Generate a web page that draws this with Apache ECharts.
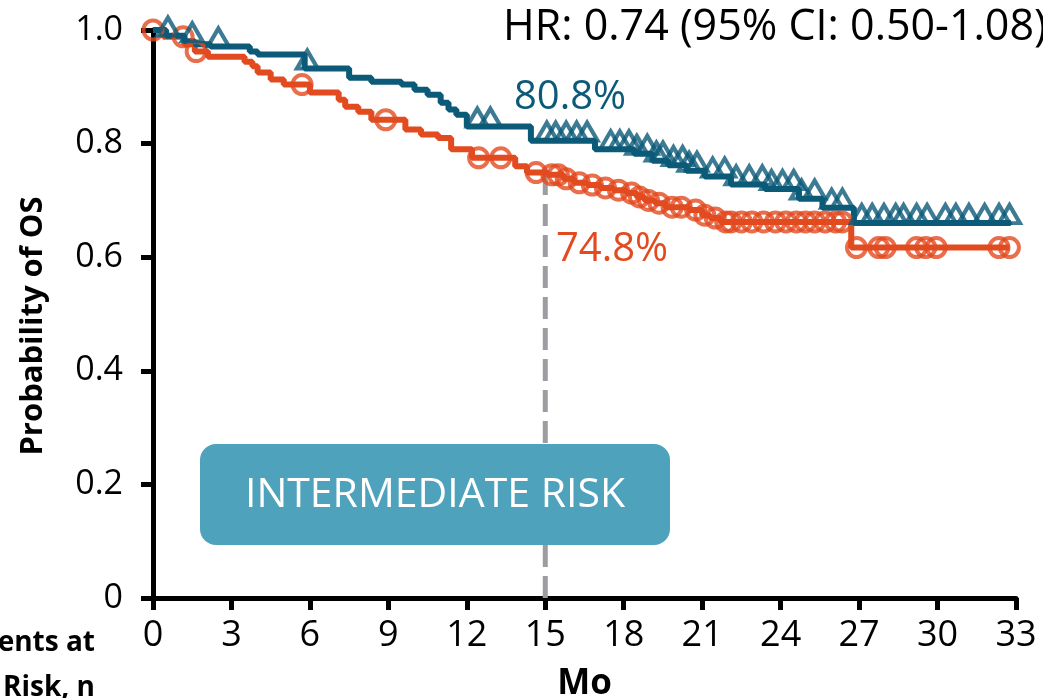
<!DOCTYPE html>
<html>
<head>
<meta charset="utf-8">
<title>Probability of OS - Intermediate risk</title>
<script src="https://cdn.jsdelivr.net/npm/echarts@6/dist/echarts.min.js"></script>
<style>
  html, body { margin: 0; padding: 0; background: #fff; }
  #chart-container { width: 1043px; height: 698px; }
</style>
</head>
<body>
<div id="chart-container"></div>
<script>
// x ticks (months) and y ticks
var monthTicks = [0, 3, 6, 9, 12, 15, 18, 21, 24, 27, 30, 33];

// teal arm: KM steps [month, survival] and censor times
var tealSteps = [
  [0, 1.0], [0.5, 0.99], [1.2, 0.98], [1.6, 0.975], [2.2, 0.971], [3.7, 0.962],
  [4.0, 0.957], [5.8, 0.932], [7.5, 0.916], [8.35, 0.909], [9.5, 0.904],
  [10.0, 0.895], [10.5, 0.886], [11.0, 0.872], [11.3, 0.86], [11.6, 0.851],
  [12.0, 0.83], [14.45, 0.805], [16.9, 0.79], [18.4, 0.782], [19.1, 0.77],
  [19.7, 0.762], [20.4, 0.752], [21.1, 0.742], [22.1, 0.728], [23.4, 0.72],
  [24.7, 0.703], [25.6, 0.687], [26.8, 0.66], [32.8, 0.66]
];
var tealCensor = [
  0.57, 1.5, 2.5, 5.9, 12.4, 12.9, 15.06, 15.4, 15.8, 16.2, 16.6, 17.5, 17.85,
  18.2, 18.5, 18.9, 19.25, 19.5, 19.9, 20.25, 20.5, 20.8, 21.4, 21.86, 22.3,
  22.8, 23.3, 23.65, 24.07, 24.5, 24.8, 25.3, 25.95, 26.36, 27.1, 27.5, 27.95,
  28.4, 28.7, 29.2, 29.6, 30.3, 30.7, 31.2, 31.8, 32.35, 32.75
];

// orange arm
var orangeSteps = [
  [0, 1.0], [0.4, 0.988], [1.2, 0.975], [1.6, 0.962], [2.1, 0.953], [3.5, 0.944],
  [3.8, 0.936], [4.0, 0.925], [4.5, 0.913], [5.0, 0.904], [6.0, 0.89],
  [7.1, 0.877], [7.35, 0.865], [7.85, 0.856], [8.35, 0.842], [9.65, 0.825],
  [10.25, 0.816], [10.9, 0.81], [11.4, 0.79], [12.2, 0.775], [13.85, 0.76],
  [14.3, 0.749], [15.1, 0.745], [15.7, 0.738], [16.1, 0.731], [16.6, 0.727],
  [17.1, 0.722], [17.6, 0.718], [18.1, 0.713], [18.5, 0.706], [18.8, 0.70],
  [19.2, 0.695], [19.6, 0.688], [20.5, 0.683], [21.0, 0.674], [21.3, 0.669],
  [21.7, 0.662], [26.7, 0.617], [32.75, 0.617]
];
var orangeCensor = [
  0, 1.15, 1.65, 5.7, 8.9, 12.45, 13.3, 14.65, 15.25, 15.5, 15.8, 16.3, 16.8,
  17.3, 17.8, 18.3, 18.6, 18.95, 19.35, 19.85, 20.2, 20.75, 21.1, 21.5, 21.9,
  22.1, 22.5, 22.9, 23.35, 23.8, 24.2, 24.6, 24.95, 25.3, 25.7, 26.1, 26.35,
  26.9, 27.75, 28.0, 29.2, 29.55, 29.95, 32.35, 32.75
];

// landmark at 15 months
var landmarkMonth = 15;
var tealLandmark = 0.808;
var orangeLandmark = 0.748;

var TEAL = '#0b5a78';
var ORANGE = '#e24a1f';
var FONT = 'Open Sans';

// survival value at time t from a step list
function stepValue(steps, t) {
  var v = steps[0][1];
  for (var i = 0; i < steps.length; i++) {
    if (steps[i][0] <= t) v = steps[i][1];
  }
  return v;
}
function censorPoints(steps, times) {
  return times.map(function (t) { return [t, stepValue(steps, t)]; });
}

var dom = document.getElementById('chart-container');
var myChart = echarts.init(dom, null, { renderer: 'canvas' });

var option = {
  animation: false,
  grid: { left: 153, right: 27, top: 30, bottom: 100, containLabel: false, outerBoundsMode: 'none' },
  xAxis: {
    type: 'value',
    min: monthTicks[0],
    max: monthTicks[monthTicks.length - 1],
    interval: 3,
    name: 'Mo',
    nameLocation: 'middle',
    nameGap: 69,
    nameTextStyle: { fontFamily: FONT, fontWeight: 'bold', fontSize: 35, color: '#000' },
    axisLine: { lineStyle: { color: '#000', width: 5 } },
    axisTick: { length: 12, lineStyle: { color: '#000', width: 5 } },
    axisLabel: { margin: 20, fontFamily: FONT, fontSize: 36, color: '#000' },
    splitLine: { show: false }
  },
  yAxis: {
    type: 'value',
    min: 0,
    max: 1,
    interval: 0.2,
    axisLine: { show: true, lineStyle: { color: '#000', width: 5 } },
    axisTick: { show: true, length: 12, lineStyle: { color: '#000', width: 5 } },
    axisLabel: {
      margin: 30, fontFamily: FONT, fontSize: 34, color: '#000',
      formatter: function (v) { return v === 0 ? '0' : v.toFixed(1); }
    },
    splitLine: { show: false }
  },
  graphic: [
    {
      type: 'text', left: 503, top: 6, z: 10,
      style: { text: 'HR: 0.74 (95% CI: 0.50-1.08)', fontFamily: FONT, fontSize: 43, fill: '#000' }
    },
    {
      type: 'text', x: 570, y: 98, z: 10,
      style: { text: (tealLandmark * 100).toFixed(1) + '%', fontFamily: FONT, fontSize: 40, fill: TEAL, align: 'center', verticalAlign: 'middle' }
    },
    {
      type: 'text', x: 556, y: 250, z: 10,
      style: { text: (orangeLandmark * 100).toFixed(1) + '%', fontFamily: FONT, fontSize: 40, fill: ORANGE, align: 'left', verticalAlign: 'middle' }
    },
    {
      type: 'rect', z: 10,
      shape: { x: 200, y: 444, width: 470, height: 101, r: 16 },
      style: { fill: '#4ea2bb' }
    },
    {
      type: 'text', x: 435, y: 495, z: 11,
      style: { text: 'INTERMEDIATE RISK', fontFamily: FONT, fontSize: 41, fill: '#fff', align: 'center', verticalAlign: 'middle' }
    },
    {
      type: 'text', x: 33, y: 326, rotation: Math.PI / 2, z: 10,
      style: { text: 'Probability of OS', fontFamily: FONT, fontWeight: 'bold', fontSize: 31, fill: '#000', align: 'center', verticalAlign: 'middle' }
    },
    {
      type: 'text', x: 95, y: 643, z: 10,
      style: { text: 'Patients at', fontFamily: FONT, fontWeight: 'bold', fontSize: 28, fill: '#000', align: 'right', verticalAlign: 'middle' }
    },
    {
      type: 'text', x: 95, y: 688, z: 10,
      style: { text: 'Risk, n', fontFamily: FONT, fontWeight: 'bold', fontSize: 28, fill: '#000', align: 'right', verticalAlign: 'middle' }
    }
  ],
  series: [
    {
      // dashed landmark line
      type: 'line',
      z: 1,
      data: [[landmarkMonth, 0], [landmarkMonth, orangeLandmark]],
      symbol: 'none',
      lineStyle: { color: '#9d9da1', width: 5, type: [22, 9] },
      silent: true
    },
    {
      type: 'line',
      step: 'end',
      z: 3,
      data: orangeSteps,
      symbol: 'none',
      clip: false,
      lineStyle: { color: ORANGE, width: 6 }
    },
    {
      type: 'line',
      step: 'end',
      z: 4,
      data: tealSteps,
      symbol: 'none',
      clip: false,
      lineStyle: { color: TEAL, width: 6 }
    },
    {
      type: 'scatter',
      z: 5,
      clip: false,
      data: censorPoints(orangeSteps, orangeCensor),
      symbol: 'circle',
      symbolSize: 19,
      itemStyle: { color: 'rgba(0,0,0,0)', borderColor: ORANGE, borderWidth: 4 }
    },
    {
      type: 'scatter',
      z: 6,
      clip: false,
      data: censorPoints(tealSteps, tealCensor),
      symbol: 'triangle',
      symbolSize: [21, 18],
      symbolOffset: [0, '-50%'],
      itemStyle: { color: 'rgba(0,0,0,0)', borderColor: TEAL, borderWidth: 4 }
    }
  ]
};

myChart.setOption(option);
window.addEventListener('resize', myChart.resize);
</script>
</body>
</html>
